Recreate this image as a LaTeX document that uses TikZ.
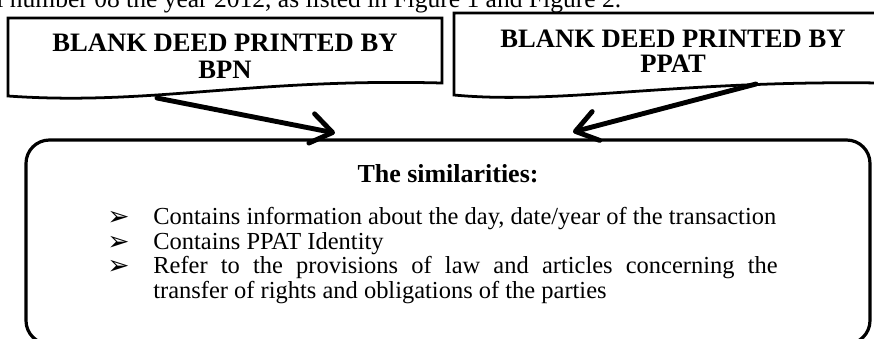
\documentclass[tikz,border=0pt]{standalone}
\usepackage{fontspec}
\setmainfont{Liberation Serif}
\newfontfamily\dingfont{DejaVu Sans}
\usetikzlibrary{arrows.meta}
\newcommand{\bulletmark}{\makebox[21.6pt][l]{\dingfont\fontsize{12.5}{9}\selectfont\raisebox{-0.5pt}{➢}}}
\begin{document}
\begin{tikzpicture}[x=0.47pt,y=-0.47pt,
  boxline/.style={line width=1.3pt, line join=miter},
  mainbox/.style={line width=1.5pt, rounded corners=11pt},
  conn/.style={line width=2.3pt, line cap=round, -{Straight Barb[round,length=10pt,width=14pt]}},
  titletext/.style={font=\bfseries\fontsize{12.5}{#1}\selectfont, align=center, inner sep=0pt},
  bodytext/.style={font=\fontsize{12}{14}\selectfont, inner sep=0pt},
]
\useasboundingbox (0,0) rectangle (874,338);
\fill[white] (0,0) rectangle (874,338);
\clip (0,0) rectangle (874,338);

% running text cut at the top
\node[bodytext, anchor=base west] (toptext) at (-4,7) {l number 08 the year 2012, as listed in Figure 1 and Figure 2.};

% document shapes
\draw[boxline] (8,18) -- (442,18) -- (442,83) .. controls (250,78) and (150,106) .. (8,96) -- cycle;
\draw[boxline] (454,13) -- (880,13) -- (880,83) .. controls (680,80) and (560,105) .. (454,95) -- cycle;
\node[titletext=12.9] (bpn) at (225,56) {BLANK DEED PRINTED BY\\BPN};
\node[titletext=11.8] (ppat) at (673,51) {BLANK DEED PRINTED BY\\PPAT};

% main rounded box
\draw[mainbox] (26,140) rectangle (870,344);
\node[bodytext, font=\bfseries\fontsize{12.2}{14}\selectfont, anchor=base] (head) at (448,182) {The similarities:};
\node[inner sep=0pt, anchor=north west, text width=315pt, align=justify,
      font=\fontsize{11.5}{9.87}\selectfont] (list) at (107,207) {%
  \setlength{\parindent}{0pt}\hyphenpenalty=10000\exhyphenpenalty=10000%
  \hangindent=21.6pt\hangafter=1\bulletmark\mbox{Contains information about the day, date/year of the transaction}\par
  \hangindent=21.6pt\hangafter=1\bulletmark Contains PPAT Identity\par
  \hangindent=21.6pt\hangafter=1\bulletmark Refer to the provisions of law and articles concerning the\linebreak transfer of rights and obligations of the parties\par};

% connectors
\coordinate (a1s) at (157,98);
\coordinate (a1e) at (335,133);
\coordinate (a2s) at (756,84);
\coordinate (a2e) at (573,132);
\draw[conn] (a1s) -- (a1e);
\draw[conn] (a2s) -- (a2e);
\end{tikzpicture}
\end{document}
